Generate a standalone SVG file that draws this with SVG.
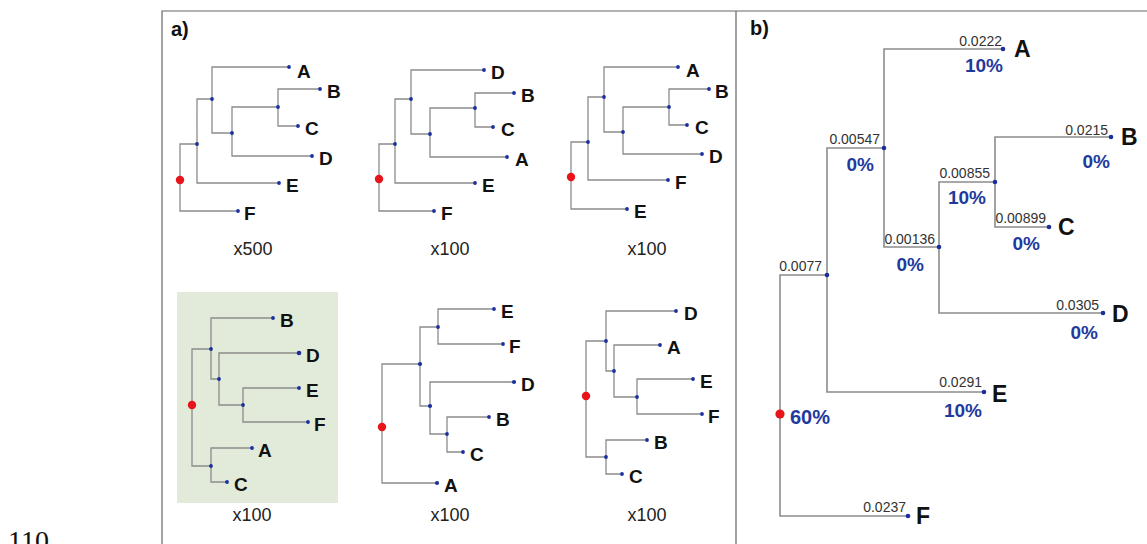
<svg xmlns="http://www.w3.org/2000/svg" width="1147" height="544" viewBox="0 0 1147 544">
<style>
.frame{fill:none;stroke:#666;stroke-width:1.2}
.ea{fill:none;stroke:#8c8c8c;stroke-width:1.3}
.eb{fill:none;stroke:#8c8c8c;stroke-width:1.6}
.d{fill:#1a2f9e}
.r{fill:#e8141a}
.la{font-family:"Liberation Sans",Arial,sans-serif;font-weight:bold;font-size:19px;fill:#111}
.lb{font-family:"Liberation Sans",Arial,sans-serif;font-weight:bold;font-size:23px;fill:#111}
.cap{font-family:"Liberation Sans",Arial,sans-serif;font-size:18px;fill:#222;text-anchor:middle}
.pl{font-family:"Liberation Sans",Arial,sans-serif;font-weight:bold;font-size:20px;fill:#111}
.num{font-family:"Liberation Sans",Arial,sans-serif;font-size:14px;fill:#333;text-anchor:end}
.pct{font-family:"Liberation Sans",Arial,sans-serif;font-weight:bold;font-size:19px;fill:#1f3a9e;text-anchor:end}
</style>
<rect width="1147" height="544" fill="#fff"/>
<text x="8" y="550" font-family="Liberation Serif, serif" font-size="28" fill="#111">110</text>
<path class="frame" d="M162,544 V11 H1147 M736,11 V544"/>
<text class="pl" x="171" y="36">a)</text>
<text class="pl" x="750" y="35">b)</text>

<!-- Tree a1 -->
<g id="tree-a1">
<g id="a1-edges">
<path class="ea" d="M180,180 V144 H197 M180,180 V211 H238 M197,144 V99 H212 M197,144 V183 H279 M212,99 V67 H289 M212,99 V133 H232 M232,133 V107 H278 M232,133 V156 H312 M278,107 V89 H320 M278,107 V126 H298"/>
</g>
<g id="a1-root"><circle class="r" cx="180" cy="180" r="4.2"/></g>
<g id="a1-n1"><circle class="d" cx="197" cy="144" r="1.9"/></g>
<g id="a1-n2"><circle class="d" cx="212" cy="99" r="1.9"/></g>
<g id="a1-n3"><circle class="d" cx="232" cy="133" r="1.9"/></g>
<g id="a1-n4"><circle class="d" cx="278" cy="107" r="1.9"/></g>
<g id="a1-A"><circle class="d" cx="289" cy="67" r="1.9"/><text class="la" x="297" y="78">A</text></g>
<g id="a1-B"><circle class="d" cx="320" cy="89" r="1.9"/><text class="la" x="327" y="98">B</text></g>
<g id="a1-C"><circle class="d" cx="298" cy="126" r="1.9"/><text class="la" x="305" y="135">C</text></g>
<g id="a1-D"><circle class="d" cx="312" cy="156" r="1.9"/><text class="la" x="319" y="165">D</text></g>
<g id="a1-E"><circle class="d" cx="279" cy="183" r="1.9"/><text class="la" x="286" y="192">E</text></g>
<g id="a1-F"><circle class="d" cx="238" cy="211" r="1.9"/><text class="la" x="244" y="220">F</text></g>
<text class="cap" x="253" y="255">x500</text>
</g>

<!-- Tree a2 -->
<g id="tree-a2">
<g id="a2-edges">
<path class="ea" d="M379,179 V144 H395 M379,179 V211 H434 M395,144 V99 H411 M395,144 V183 H475 M411,99 V70 H484 M411,99 V134 H430 M430,134 V108 H475 M430,134 V157 H507 M475,108 V93 H514 M475,108 V127 H493"/>
</g>
<g id="a2-root"><circle class="r" cx="379" cy="179" r="4.2"/></g>
<g id="a2-n1"><circle class="d" cx="395" cy="144" r="1.9"/></g>
<g id="a2-n2"><circle class="d" cx="411" cy="99" r="1.9"/></g>
<g id="a2-n3"><circle class="d" cx="430" cy="134" r="1.9"/></g>
<g id="a2-n4"><circle class="d" cx="475" cy="108" r="1.9"/></g>
<g id="a2-D"><circle class="d" cx="484" cy="70" r="1.9"/><text class="la" x="491" y="79">D</text></g>
<g id="a2-B"><circle class="d" cx="514" cy="93" r="1.9"/><text class="la" x="521" y="102">B</text></g>
<g id="a2-C"><circle class="d" cx="493" cy="127" r="1.9"/><text class="la" x="501" y="136">C</text></g>
<g id="a2-A"><circle class="d" cx="507" cy="157" r="1.9"/><text class="la" x="515" y="166">A</text></g>
<g id="a2-E"><circle class="d" cx="475" cy="183" r="1.9"/><text class="la" x="482" y="192">E</text></g>
<g id="a2-F"><circle class="d" cx="434" cy="211" r="1.9"/><text class="la" x="441" y="220">F</text></g>
<text class="cap" x="450" y="255">x100</text>
</g>

<!-- Tree a3 -->
<g id="tree-a3">
<g id="a3-edges">
<path class="ea" d="M571,177 V142 H588 M571,177 V209 H627 M588,142 V97 H604 M588,142 V180 H668 M604,97 V67 H678 M604,97 V132 H623 M623,132 V107 H669 M623,132 V154 H702 M669,107 V89 H709 M669,107 V125 H687"/>
</g>
<g id="a3-root"><circle class="r" cx="571" cy="177" r="4.2"/></g>
<g id="a3-n1"><circle class="d" cx="588" cy="142" r="1.9"/></g>
<g id="a3-n2"><circle class="d" cx="604" cy="97" r="1.9"/></g>
<g id="a3-n3"><circle class="d" cx="623" cy="132" r="1.9"/></g>
<g id="a3-n4"><circle class="d" cx="669" cy="107" r="1.9"/></g>
<g id="a3-A"><circle class="d" cx="678" cy="67" r="1.9"/><text class="la" x="686" y="77">A</text></g>
<g id="a3-B"><circle class="d" cx="709" cy="89" r="1.9"/><text class="la" x="715" y="98">B</text></g>
<g id="a3-C"><circle class="d" cx="687" cy="125" r="1.9"/><text class="la" x="695" y="134">C</text></g>
<g id="a3-D"><circle class="d" cx="702" cy="154" r="1.9"/><text class="la" x="709" y="163">D</text></g>
<g id="a3-F"><circle class="d" cx="668" cy="180" r="1.9"/><text class="la" x="675" y="189">F</text></g>
<g id="a3-E"><circle class="d" cx="627" cy="209" r="1.9"/><text class="la" x="634" y="218">E</text></g>
<text class="cap" x="647" y="255">x100</text>
</g>

<!-- Tree a4 (highlighted) -->
<g id="tree-a4">
<rect x="177" y="292" width="161" height="211" fill="#e2ebd9"/>
<g id="a4-edges">
<path class="ea" d="M192,405 V349 H211 M192,405 V466 H211 M211,349 V318 H273 M211,349 V379 H219 M219,379 V353 H299 M219,379 V405 H243 M243,405 V388 H299 M243,405 V422 H308 M211,466 V448 H252 M211,466 V482 H227"/>
</g>
<g id="a4-root"><circle class="r" cx="192" cy="405" r="4.2"/></g>
<g id="a4-n1"><circle class="d" cx="211" cy="349" r="1.9"/></g>
<g id="a4-n2"><circle class="d" cx="219" cy="379" r="1.9"/></g>
<g id="a4-n3"><circle class="d" cx="243" cy="405" r="1.9"/></g>
<g id="a4-n4"><circle class="d" cx="211" cy="466" r="1.9"/></g>
<g id="a4-B"><circle class="d" cx="273" cy="318" r="1.9"/><text class="la" x="280" y="327">B</text></g>
<g id="a4-D"><circle class="d" cx="299" cy="353" r="2.3"/><text class="la" x="306" y="362">D</text></g>
<g id="a4-E"><circle class="d" cx="299" cy="388" r="1.9"/><text class="la" x="306" y="397">E</text></g>
<g id="a4-F"><circle class="d" cx="308" cy="422" r="1.9"/><text class="la" x="314" y="431">F</text></g>
<g id="a4-A"><circle class="d" cx="252" cy="448" r="1.9"/><text class="la" x="258" y="457">A</text></g>
<g id="a4-C"><circle class="d" cx="227" cy="482" r="1.9"/><text class="la" x="234" y="491">C</text></g>
<text class="cap" x="252" y="521">x100</text>
</g>

<!-- Tree a5 -->
<g id="tree-a5">
<g id="a5-edges">
<path class="ea" d="M382,427 V364 H420 M382,427 V483 H437 M420,364 V327 H438 M420,364 V406 H430 M438,327 V309 H494 M438,327 V344 H503 M430,406 V382 H514 M430,406 V434 H447 M447,434 V417 H489 M447,434 V452 H463"/>
</g>
<g id="a5-root"><circle class="r" cx="382" cy="427" r="4.2"/></g>
<g id="a5-n1"><circle class="d" cx="420" cy="364" r="2.1"/></g>
<g id="a5-n2"><circle class="d" cx="438" cy="327" r="1.9"/></g>
<g id="a5-n3"><circle class="d" cx="430" cy="406" r="2.1"/></g>
<g id="a5-n4"><circle class="d" cx="447" cy="434" r="1.9"/></g>
<g id="a5-E"><circle class="d" cx="494" cy="309" r="1.9"/><text class="la" x="501" y="318">E</text></g>
<g id="a5-F"><circle class="d" cx="503" cy="344" r="1.9"/><text class="la" x="509" y="353">F</text></g>
<g id="a5-D"><circle class="d" cx="514" cy="382" r="2.1"/><text class="la" x="521" y="391">D</text></g>
<g id="a5-B"><circle class="d" cx="489" cy="417" r="1.9"/><text class="la" x="496" y="426">B</text></g>
<g id="a5-C"><circle class="d" cx="463" cy="452" r="1.9"/><text class="la" x="470" y="461">C</text></g>
<g id="a5-A"><circle class="d" cx="437" cy="483" r="2.1"/><text class="la" x="444" y="492">A</text></g>
<text class="cap" x="450" y="521">x100</text>
</g>

<!-- Tree a6 -->
<g id="tree-a6">
<g id="a6-edges">
<path class="ea" d="M586,396 V341 H606 M586,396 V457 H606 M606,341 V311 H676 M606,341 V371 H614 M614,371 V345 H660 M614,371 V397 H637 M637,397 V379 H693 M637,397 V414 H702 M606,457 V440 H647 M606,457 V474 H622"/>
</g>
<g id="a6-root"><circle class="r" cx="586" cy="396" r="4.2"/></g>
<g id="a6-n1"><circle class="d" cx="606" cy="341" r="1.9"/></g>
<g id="a6-n2"><circle class="d" cx="614" cy="371" r="1.9"/></g>
<g id="a6-n3"><circle class="d" cx="637" cy="397" r="1.9"/></g>
<g id="a6-n4"><circle class="d" cx="606" cy="457" r="1.9"/></g>
<g id="a6-D"><circle class="d" cx="676" cy="311" r="1.9"/><text class="la" x="684" y="320">D</text></g>
<g id="a6-A"><circle class="d" cx="660" cy="345" r="1.9"/><text class="la" x="667" y="354">A</text></g>
<g id="a6-E"><circle class="d" cx="693" cy="379" r="1.9"/><text class="la" x="700" y="388">E</text></g>
<g id="a6-F"><circle class="d" cx="702" cy="414" r="1.9"/><text class="la" x="708" y="423">F</text></g>
<g id="a6-B"><circle class="d" cx="647" cy="440" r="1.9"/><text class="la" x="654" y="449">B</text></g>
<g id="a6-C"><circle class="d" cx="622" cy="474" r="1.9"/><text class="la" x="629" y="483">C</text></g>
<text class="cap" x="647" y="521">x100</text>
</g>

<!-- Panel b consensus tree -->
<g id="tree-b">
<g id="b-edges">
<path class="eb" d="M780,414 V275 H827 M780,414 V516 H908 M827,275 V148 H884 M827,275 V392 H984 M884,148 V49 H1003 M884,148 V247 H939 M939,247 V182 H995 M939,247 V313 H1103 M995,182 V137 H1111 M995,182 V227 H1049"/>
</g>
<g id="b-edge-labels">
<text class="num" x="822" y="271">0.0077</text>
<text class="num" x="906" y="512">0.0237</text>
<text class="num" x="880" y="144">0.00547</text>
<text class="pct" x="874" y="171">0%</text>
<text class="num" x="982" y="387">0.0291</text>
<text class="pct" x="982" y="417">10%</text>
<text class="num" x="1002" y="46">0.0222</text>
<text class="pct" x="1003" y="72">10%</text>
<text class="num" x="935" y="244">0.00136</text>
<text class="pct" x="924" y="271">0%</text>
<text class="num" x="990" y="178">0.00855</text>
<text class="pct" x="986" y="204">10%</text>
<text class="num" x="1108" y="135">0.0215</text>
<text class="pct" x="1110" y="168">0%</text>
<text class="num" x="1046" y="223">0.00899</text>
<text class="pct" x="1040" y="250">0%</text>
<text class="num" x="1099" y="310">0.0305</text>
<text class="pct" x="1098" y="339">0%</text>
</g>
<g id="b-root"><circle class="r" cx="780" cy="414" r="4.6"/><text class="pct" x="790" y="424" style="text-anchor:start;font-size:20px">60%</text></g>
<g id="b-n1"><circle class="d" cx="827" cy="275" r="2.3"/></g>
<g id="b-n2"><circle class="d" cx="884" cy="148" r="2.3"/></g>
<g id="b-n3"><circle class="d" cx="939" cy="247" r="2.3"/></g>
<g id="b-n4"><circle class="d" cx="995" cy="182" r="2.3"/></g>
<g id="b-A"><circle class="d" cx="1003" cy="49" r="2.3"/><text class="lb" x="1014" y="57">A</text></g>
<g id="b-B"><circle class="d" cx="1111" cy="137" r="2.3"/><text class="lb" x="1121" y="145">B</text></g>
<g id="b-C"><circle class="d" cx="1049" cy="227" r="2.3"/><text class="lb" x="1058" y="235">C</text></g>
<g id="b-D"><circle class="d" cx="1103" cy="313" r="2.3"/><text class="lb" x="1112" y="322">D</text></g>
<g id="b-E"><circle class="d" cx="984" cy="392" r="2.3"/><text class="lb" x="992" y="402">E</text></g>
<g id="b-F"><circle class="d" cx="908" cy="516" r="2.3"/><text class="lb" x="916" y="524">F</text></g>
</g>
</svg>
